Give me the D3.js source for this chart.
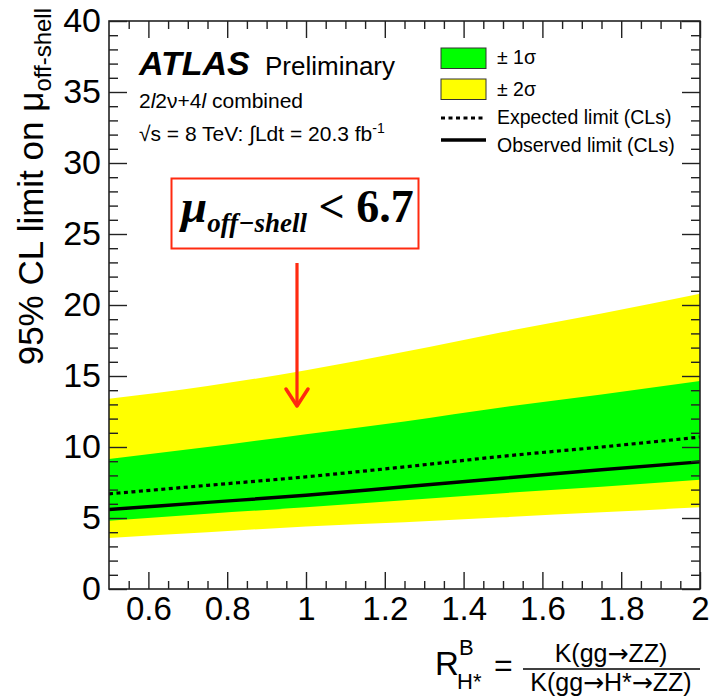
<!DOCTYPE html>
<html>
<head>
<meta charset="utf-8">
<script src="https://cdn.jsdelivr.net/npm/d3@7"></script>
<style>
  body { margin: 0; background: #fff; }
  svg { display: block; font-family: "Liberation Sans", Arial, sans-serif; }
  .axis path, .axis line { stroke: #222; stroke-width: 1.4; }
  .axis text { font-family: "Liberation Sans", Arial, sans-serif; fill: #000; }
  .arr { font-family: "DejaVu Sans", sans-serif; }
</style>
</head>
<body>
<div id="chart_box"></div>
<script>
// R^B_H* values where the limits were read
var rValues = [0.5, 0.75, 1.0, 1.25, 1.5, 1.75, 2.0];
// expected limit and its bands, observed limit
var plus2sigma  = [13.4, 14.3, 15.4, 16.7, 18.1, 19.4, 20.8];
var plus1sigma  = [9.15, 10.0, 10.9, 11.8, 12.8, 13.7, 14.65];
var expected    = [6.7, 7.3, 7.9, 8.6, 9.35, 10.0, 10.7];
var observed    = [5.6, 6.1, 6.6, 7.2, 7.8, 8.4, 8.95];
var minus1sigma = [4.8, 5.3, 5.75, 6.25, 6.75, 7.2, 7.7];
var minus2sigma = [3.6, 4.0, 4.4, 4.7, 5.05, 5.4, 5.75];

var xMajorTicks = [0.6, 0.8, 1, 1.2, 1.4, 1.6, 1.8, 2];
var yMajorTicks = [0, 5, 10, 15, 20, 25, 30, 35, 40];

var width = 712, height = 696;
var margin = {top: 21, right: 12, bottom: 107, left: 109};
var plotW = width - margin.left - margin.right;
var plotH = height - margin.top - margin.bottom;

var svg = d3.select("#chart_box").append("svg")
    .attr("width", width)
    .attr("height", height);

var x = d3.scaleLinear().domain([0.5, 2]).range([0, plotW]);
var y = d3.scaleLinear().domain([0, 40]).range([plotH, 0]);

var xMinor = d3.range(0.55, 2.0, 0.05).map(function(d){ return +d.toFixed(2); })
    .filter(function(d){ return xMajorTicks.indexOf(d) < 0; });
var yMinor = d3.range(1, 40, 1).filter(function(d){ return d % 5 !== 0; });

var chart = svg.append("g")
    .attr("transform", "translate(" + margin.left + "," + margin.top + ")");

chart.append("clipPath").attr("id", "plot_clip")
    .append("rect").attr("width", plotW).attr("height", plotH);

var pts = rValues.map(function(r, i){
  return {r: r, p2: plus2sigma[i], p1: plus1sigma[i], exp: expected[i],
          obs: observed[i], m1: minus1sigma[i], m2: minus2sigma[i]};
});

var bands = chart.append("g").attr("clip-path", "url(#plot_clip)");

bands.append("path").datum(pts)
    .attr("fill", "#ffff00")
    .attr("d", d3.area().curve(d3.curveMonotoneX)
      .x(function(d){ return x(d.r); })
      .y0(function(d){ return y(d.m2); })
      .y1(function(d){ return y(d.p2); }));

bands.append("path").datum(pts)
    .attr("fill", "#00ff00")
    .attr("d", d3.area().curve(d3.curveMonotoneX)
      .x(function(d){ return x(d.r); })
      .y0(function(d){ return y(d.m1); })
      .y1(function(d){ return y(d.p1); }));

bands.append("path").datum(pts)
    .attr("fill", "none").attr("stroke", "#000")
    .attr("stroke-width", 3.2).attr("stroke-dasharray", "4,3.5")
    .attr("d", d3.line().curve(d3.curveMonotoneX)
      .x(function(d){ return x(d.r); })
      .y(function(d){ return y(d.exp); }));

bands.append("path").datum(pts)
    .attr("fill", "none").attr("stroke", "#000")
    .attr("stroke-width", 3.4)
    .attr("d", d3.line().curve(d3.curveMonotoneX)
      .x(function(d){ return x(d.r); })
      .y(function(d){ return y(d.obs); }));

// axes, ROOT style ticks pointing inside
function noDomain(g){ g.select(".domain").remove(); }

chart.append("g").attr("class", "axis")
    .attr("transform", "translate(0," + plotH + ")")
    .call(d3.axisBottom(x).tickValues(xMajorTicks).tickSize(-17).tickPadding(8)
      .tickFormat(d3.format("")))
    .call(noDomain)
    .selectAll("text").style("font-size", "33px");
chart.append("g").attr("class", "axis")
    .attr("transform", "translate(0," + plotH + ")")
    .call(d3.axisBottom(x).tickValues(xMinor).tickSize(-8).tickFormat(""))
    .call(noDomain);
chart.append("g").attr("class", "axis")
    .call(d3.axisTop(x).tickValues(xMajorTicks).tickSize(-17).tickFormat(""))
    .call(noDomain);
chart.append("g").attr("class", "axis")
    .call(d3.axisTop(x).tickValues(xMinor).tickSize(-8).tickFormat(""))
    .call(noDomain);

chart.append("g").attr("class", "axis")
    .call(d3.axisLeft(y).tickValues(yMajorTicks).tickSize(-18).tickPadding(8))
    .call(noDomain)
    .selectAll("text").style("font-size", "34px");
chart.append("g").attr("class", "axis")
    .call(d3.axisLeft(y).tickValues(yMinor).tickSize(-9).tickFormat(""))
    .call(noDomain);
chart.append("g").attr("class", "axis")
    .attr("transform", "translate(" + plotW + ",0)")
    .call(d3.axisRight(y).tickValues(yMajorTicks).tickSize(-18).tickFormat(""))
    .call(noDomain);
chart.append("g").attr("class", "axis")
    .attr("transform", "translate(" + plotW + ",0)")
    .call(d3.axisRight(y).tickValues(yMinor).tickSize(-9).tickFormat(""))
    .call(noDomain);

chart.append("rect")
    .attr("width", plotW).attr("height", plotH)
    .attr("fill", "none").attr("stroke", "#222").attr("stroke-width", 1.6);

// y title
var yTitle = svg.append("text")
    .attr("transform", "translate(43,8) rotate(-90)")
    .attr("text-anchor", "end")
    .style("font-size", "35px");
yTitle.append("tspan").text("95% CL limit on \u03bc");
yTitle.append("tspan").attr("dy", 8).style("font-size", "24px").text("off-shell");

// x title
var xt = svg.append("g");
xt.append("text").attr("x", 435).attr("y", 675).style("font-size", "33px").text("R");
xt.append("text").attr("x", 459).attr("y", 655).style("font-size", "22px").text("B");
xt.append("text").attr("x", 457).attr("y", 689).style("font-size", "22px").text("H*");
xt.append("text").attr("x", 494).attr("y", 676).style("font-size", "32px").text("=");
var num = xt.append("text").attr("x", 611).attr("y", 662).attr("text-anchor", "middle")
    .style("font-size", "25px");
num.append("tspan").text("K(gg");
num.append("tspan").attr("class", "arr").text("\u2192");
num.append("tspan").text("ZZ)");
xt.append("line").attr("x1", 523).attr("x2", 700).attr("y1", 669).attr("y2", 669)
    .attr("stroke", "#000").attr("stroke-width", 1.5);
var den = xt.append("text").attr("x", 611).attr("y", 691).attr("text-anchor", "middle")
    .style("font-size", "25px");
den.append("tspan").text("K(gg");
den.append("tspan").attr("class", "arr").text("\u2192");
den.append("tspan").text("H*");
den.append("tspan").attr("class", "arr").text("\u2192");
den.append("tspan").text("ZZ)");

// ATLAS label
svg.append("text").attr("x", 139).attr("y", 75)
    .style("font-size", "34px").style("font-weight", "bold").style("font-style", "italic")
    .text("ATLAS");
svg.append("text").attr("x", 265).attr("y", 75)
    .style("font-size", "26px").text("Preliminary");
var chan = svg.append("text").attr("x", 139).attr("y", 108).style("font-size", "21px");
chan.append("tspan").text("2");
chan.append("tspan").style("font-style", "italic").text("l");
chan.append("tspan").text("2\u03bd+4");
chan.append("tspan").style("font-style", "italic").text("l");
chan.append("tspan").text(" combined");
var lumi = svg.append("text").attr("x", 139).attr("y", 141).style("font-size", "21px");
lumi.append("tspan").text("\u221as = 8 TeV: \u222bLdt = 20.3 fb");
lumi.append("tspan").attr("dy", -8).style("font-size", "14px").text("-1");

// legend
var legend = svg.append("g").attr("transform", "translate(441,0)");
legend.append("rect").attr("x", 0).attr("y", 48).attr("width", 45).attr("height", 20.5)
    .attr("fill", "#00ff00").attr("stroke", "#333").attr("stroke-width", 1);
legend.append("rect").attr("x", 0).attr("y", 79).attr("width", 45).attr("height", 20.5)
    .attr("fill", "#ffff00").attr("stroke", "#333").attr("stroke-width", 1);
legend.append("line").attr("x1", 0).attr("x2", 45).attr("y1", 118).attr("y2", 118)
    .attr("stroke", "#000").attr("stroke-width", 3).attr("stroke-dasharray", "4,3.5");
legend.append("line").attr("x1", 0).attr("x2", 45).attr("y1", 140).attr("y2", 140)
    .attr("stroke", "#000").attr("stroke-width", 3.4);
var legendLabels = ["\u00b1 1\u03c3", "\u00b1 2\u03c3", "Expected limit (CLs)", "Observed limit (CLs)"];
legend.selectAll(".leg_text").data(legendLabels).enter().append("text")
    .attr("class", "leg_text")
    .attr("x", 56)
    .attr("y", function(d, i){ return [64, 96, 124, 152][i]; })
    .style("font-size", "19.5px")
    .text(function(d){ return d; });

// annotation box and arrow
svg.append("rect").attr("x", 171.5).attr("y", 178.5).attr("width", 247).attr("height", 70)
    .attr("fill", "#fff").attr("stroke", "#ff2a10").attr("stroke-width", 2);
var ann = svg.append("text").attr("x", 181).attr("y", 222)
    .style("font-family", "'Liberation Serif', 'Times New Roman', serif")
    .style("font-weight", "bold");
ann.append("tspan").style("font-style", "italic").style("font-size", "47px").text("\u03bc");
ann.append("tspan").attr("dy", 10).style("font-style", "italic").style("font-size", "27px")
    .text("off\u2212shell");
ann.append("tspan").attr("dy", -10).style("font-size", "46px").text(" < 6.7");

svg.append("line").attr("x1", 297).attr("x2", 297).attr("y1", 263).attr("y2", 405)
    .attr("stroke", "#ff2a10").attr("stroke-width", 3.2);
svg.append("path").attr("d", "M286,389 L297,406 L308,389")
    .attr("fill", "none").attr("stroke", "#ff2a10").attr("stroke-width", 3.5)
    .attr("stroke-linecap", "round").attr("stroke-linejoin", "round");
</script>
</body>
</html>
